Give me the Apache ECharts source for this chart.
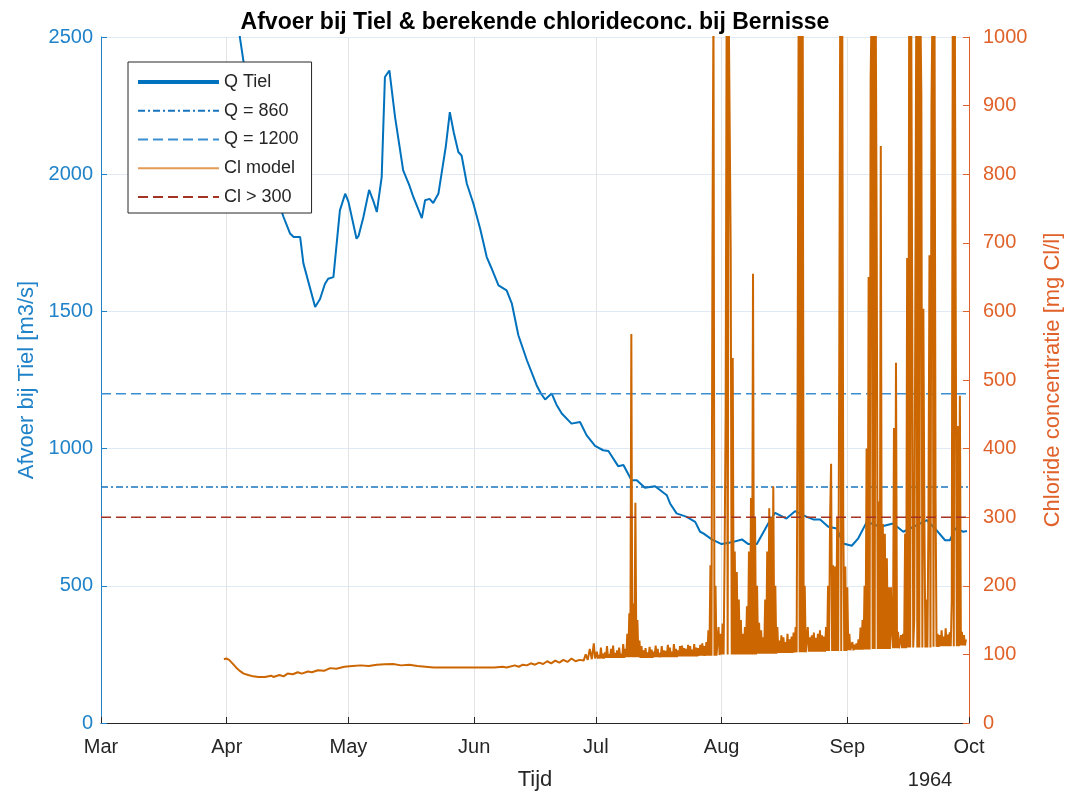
<!DOCTYPE html>
<html>
<head>
<meta charset="utf-8">
<title>Afvoer bij Tiel & berekende chlorideconc. bij Bernisse</title>
<script src="https://cdn.jsdelivr.net/npm/echarts@6/dist/echarts.min.js"></script>
<style>
  html, body { margin: 0; padding: 0; background: #fff; }
  #chart { width: 1070px; height: 792px; }
</style>
</head>
<body>
<div id="chart"></div>
<script>
// =====================
// Data (tijd = dagen sinds 1 maart 1964)
// =====================

const monthNames = ["Jan", "Feb", "Mar", "Apr", "May", "Jun", "Jul", "Aug", "Sep", "Oct", "Nov", "Dec"];
const yearLabel = "1964";

const qLevels = [860, 1200];
const clLevel = 300;

// afvoer Tiel [m3/s]
const qTiel = [
  [31, 2850], [33, 2640], [34.3, 2493], [35.1, 2414], [37, 2250], [39, 2120], [41, 2010],
  [43, 1930], [45, 1844], [46.6, 1784], [47.5, 1771], [49.1, 1771], [49.9, 1675], [52.8, 1516],
  [54, 1545], [55.2, 1600], [56, 1619], [57.3, 1625], [58.9, 1868], [60.2, 1929], [61, 1900],
  [63, 1765], [63.5, 1775], [64.7, 1844], [66.1, 1943], [67.2, 1900], [68, 1862], [69.2, 1989],
  [70, 2354], [71.1, 2378], [72.5, 2208], [74.5, 2014], [76, 1960], [77, 1917], [79.1, 1840],
  [79.9, 1905], [81, 1910], [81.9, 1895], [83.2, 1930], [85, 2100], [86, 2226], [87, 2150],
  [88.1, 2081], [88.9, 2068], [90.2, 1965], [91.8, 1893], [93.5, 1800], [95.1, 1698], [96.2, 1660],
  [98, 1595], [100, 1577], [101.3, 1528], [102.9, 1413], [105, 1322], [107.4, 1231], [108.5, 1200],
  [109.5, 1179], [111.1, 1201], [112.3, 1160], [113.6, 1128], [116, 1091], [118.1, 1097],
  [119.7, 1049], [121.8, 1010], [123.8, 994], [125.1, 991], [127.5, 936], [128.8, 940],
  [130.8, 885], [132.1, 885], [134.1, 857], [136.6, 863], [139.5, 830], [140.3, 800],
  [141.9, 764], [144.4, 751], [146.5, 733], [147.7, 697], [148.5, 691], [150.6, 669],
  [153, 652], [155.9, 660], [158, 669], [159.6, 652], [161.7, 652], [164.5, 727], [166.2, 766],
  [169, 745], [171.1, 772], [174, 751], [175.6, 742], [177.3, 742], [179.3, 715], [181.4, 709],
  [183, 654], [185.1, 646], [186.7, 673], [188.8, 733], [192.1, 715], [195.3, 727], [197.8, 697],
  [200.3, 715], [203.6, 739], [205.6, 709], [208.1, 666], [209.3, 666], [210.6, 709],
  [212.6, 697], [213.5, 700]
];

// chloride model, april - juni [mg Cl/l]
const clEarly = [
  [30.3, 93], [30.9, 94], [31.6, 92], [32.4, 87], [33.3, 81], [34.2, 76], [35.2, 72], [36.3, 70],
  [37.5, 68], [38.8, 67], [40.4, 67], [42, 69], [42.5, 67], [44, 70], [45, 68], [46, 72],
  [47.3, 71], [48.5, 74], [49.5, 72], [51, 75], [52, 74], [53.5, 77], [55, 76], [56.5, 80],
  [58, 79], [60, 82], [62, 83], [64, 84], [66, 83], [68, 85], [70, 85.5], [72, 86], [74, 84],
  [76, 85], [78, 83], [80, 82], [82, 81], [85, 81], [88, 81], [91, 81], [94, 81], [97, 81],
  [99, 82], [100, 81], [102, 84], [103, 82], [104, 85], [105, 84], [106, 87], [107, 85],
  [108, 88], [109, 86], [110, 90], [111, 87], [112, 91], [113, 88], [114, 92], [115, 89],
  [116, 94], [117, 90], [118, 92], [119, 91], [119.5, 100], [120, 92], [120.5, 108], [121, 93],
  [121.5, 116], [121.8, 94]
];

// chloride model vanaf 1 juli, elke 6 uur (laag, hoog, laag, hoog per dag)
const clStartDay = 122;
const clStepDay = 0.25;
const clValues = [
  // juli
  94, 104, 94, 99,      94, 110, 94, 101,     94, 103, 95, 112,     95, 100, 95, 108,
  95, 113, 95, 102,     95, 106, 95, 110,     95, 101, 95, 115,     95, 108, 96, 130,
  96, 160, 96, 567,     96, 174, 96, 321,     96, 150, 96, 120,     95, 112, 95, 106,
  95, 109, 95, 103,     95, 111, 95, 107,     95, 104, 96, 113,     96, 108, 96, 102,
  96, 112, 96, 106,     96, 105, 96, 114,     96, 110, 96, 104,     96, 115, 96, 108,
  96, 106, 97, 112,     97, 113, 97, 109,     97, 108, 97, 114,     97, 112, 97, 107,
  97, 115, 97, 110,     97, 109, 98, 114,     98, 116, 98, 112,     98, 118, 98, 135,
  98, 230, 98, 700,     1050, 98, 200, 98,    99, 140, 99, 130,
  // augustus
  100, 145, 100, 250,   450, 1050, 100, 1050, 1050, 690, 100, 532, 100, 250, 100, 220,
  100, 180, 100, 150,   100, 130, 100, 140,   100, 170, 100, 250,   100, 328, 100, 655,
  100, 300, 100, 200,   101, 146, 101, 135,   101, 125, 101, 180,   101, 250, 101, 313,
  101, 300, 101, 345,   101, 200, 101, 140,   102, 120, 102, 128,   102, 125, 102, 118,
  102, 130, 102, 122,   102, 126, 102, 132,   103, 140, 103, 500,   1050, 103, 1050, 103,
  1050, 103, 200, 103,  104, 140, 104, 125,   104, 128, 104, 132,   104, 124, 104, 130,
  104, 135, 104, 128,   104, 126, 104, 140,   105, 200, 105, 300,   378, 105, 230, 105,
  228, 105, 300, 105,   510, 1050, 105, 1050, 300, 105, 228, 105,
  // september
  198, 106, 130, 106,   106, 118, 106, 114,   107, 116, 107, 122,   107, 139, 107, 150,
  107, 200, 107, 400,   107, 650, 107, 939,   1050, 108, 1050, 108, 1050, 693, 108, 323,
  108, 841, 108, 290,   108, 276, 108, 240,   108, 198, 108, 198,   133, 109, 430, 109,
  525, 109, 133, 109,   109, 128, 109, 130,   109, 276, 109, 678,   110, 1050, 110, 1050,
  614, 110, 150, 586,   1050, 110, 1050, 110, 1050, 915, 110, 604,  299, 110, 180, 110,
  300, 682, 110, 901,   1050, 111, 1050, 335, 111, 130, 111, 128,   112, 135, 112, 126,
  112, 138, 112, 129,   112, 132, 112, 178,   1050, 112, 1050, 563, 112, 433, 112, 477,
  113, 133, 113, 128,   113, 122
];

// =====================
// Opbouw
// =====================

const DAY = 86400000;
const tStart = new Date(1964, 2, 1).getTime();
const tEnd = new Date(1964, 9, 1).getTime();

function toTime(d) {
  return tStart + d * DAY;
}

const qData = qTiel.map((p) => [toTime(p[0]), p[1]]);

const clData = clEarly
  .map((p) => [toTime(p[0]), p[1]])
  .concat(clValues.map((v, i) => [toTime(clStartDay + i * clStepDay), v]));

const FONT = "'Liberation Sans', Arial, Helvetica, sans-serif";
const BLUE = "#0072BD";
const BLUE_TXT = "#2083C9";
const ORANGE = "#CC6600";
const ORANGE_AX = "#E0622A";
const DARK = "#262626";

const chart = echarts.init(document.getElementById("chart"));

chart.setOption({
  animation: false,

  title: {
    text: "Afvoer bij Tiel & berekende chlorideconc. bij Bernisse",
    left: "center",
    top: 6,
    textStyle: { fontFamily: FONT, fontSize: 23, fontWeight: "bold", color: "#000" },
  },

  legend: {
    orient: "vertical",
    left: 128,
    top: 62,
    padding: [10, 13, 6, 8],
    itemWidth: 81,
    itemHeight: 14,
    itemGap: 8.75,
    backgroundColor: "#fff",
    borderColor: DARK,
    borderWidth: 1,
    borderRadius: 0,
    itemStyle: { opacity: 0 },
    textStyle: { fontFamily: FONT, fontSize: 18, color: DARK, lineHeight: 20 },
    data: [
      { name: "Q Tiel", lineStyle: { width: 4 } },
      { name: "Q = 860" },
      { name: "Q = 1200" },
      { name: "Cl model", lineStyle: { color: "#E39A55", width: 2 } },
      { name: "Cl > 300" },
    ],
  },

  grid: {
    left: 101,
    right: 101,
    top: 37,
    bottom: 69,
    outerBoundsMode: "none",
  },

  xAxis: {
    type: "time",
    min: tStart,
    max: tEnd,
    splitNumber: 7,
    minInterval: 28 * DAY,
    maxInterval: 31 * DAY,
    name: "Tijd",
    nameLocation: "middle",
    nameGap: 46,
    nameTextStyle: { fontFamily: FONT, fontSize: 22, color: DARK },
    axisLine: { lineStyle: { color: DARK, width: 1 } },
    axisTick: { inside: true, length: 6, lineStyle: { color: DARK } },
    axisLabel: {
      formatter: (v) => monthNames[new Date(v).getMonth()],
      fontFamily: FONT,
      fontSize: 20,
      color: DARK,
      margin: 14,
      showMinLabel: true,
      showMaxLabel: true,
      hideOverlap: false,
    },
    splitLine: { show: true, lineStyle: { color: "#e3e3e3", width: 1 } },
  },

  yAxis: [
    {
      type: "value",
      position: "left",
      min: 0,
      max: 2500,
      interval: 500,
      name: "Afvoer bij Tiel [m3/s]",
      nameLocation: "middle",
      nameRotate: 90,
      nameGap: 62,
      nameTextStyle: { fontFamily: FONT, fontSize: 22, color: BLUE_TXT },
      axisLine: { show: true, lineStyle: { color: BLUE_TXT, width: 1 } },
      axisTick: { show: true, inside: true, length: 6, lineStyle: { color: BLUE_TXT } },
      axisLabel: {
        formatter: (v) => String(v),
        fontFamily: FONT,
        fontSize: 20,
        color: BLUE_TXT,
        margin: 8,
      },
      splitLine: { show: true, lineStyle: { color: "#dfeaf5", width: 1 } },
    },
    {
      type: "value",
      position: "right",
      min: 0,
      max: 1000,
      interval: 100,
      name: "Chloride concentratie [mg Cl/l]",
      nameLocation: "middle",
      nameRotate: 90,
      nameGap: 73,
      nameTextStyle: { fontFamily: FONT, fontSize: 22, color: ORANGE_AX },
      axisLine: { show: true, lineStyle: { color: ORANGE_AX, width: 1 } },
      axisTick: { show: true, inside: true, length: 6, lineStyle: { color: ORANGE_AX } },
      axisLabel: {
        formatter: (v) => String(v),
        fontFamily: FONT,
        fontSize: 20,
        color: ORANGE_AX,
        margin: 14,
      },
      splitLine: { show: false },
    },
  ],

  graphic: [
    {
      type: "text",
      x: 930,
      y: 780,
      style: {
        text: yearLabel,
        align: "center",
        verticalAlign: "middle",
        fontFamily: FONT,
        fontSize: 20,
        fill: DARK,
      },
    },
  ],

  series: [
    {
      name: "Q Tiel",
      type: "line",
      yAxisIndex: 0,
      showSymbol: false,
      symbol: "none",
      color: BLUE,
      lineStyle: { color: BLUE, width: 2 },
      data: qData,
    },
    {
      name: "Q = 860",
      type: "line",
      yAxisIndex: 0,
      showSymbol: false,
      symbol: "none",
      color: "#1874BC",
      lineStyle: { color: "#1874BC", width: 1.4, type: [7, 3, 2, 3] },
      data: [[tStart, qLevels[0]], [tEnd, qLevels[0]]],
    },
    {
      name: "Q = 1200",
      type: "line",
      yAxisIndex: 0,
      showSymbol: false,
      symbol: "none",
      color: "#3A8FD2",
      lineStyle: { color: "#3A8FD2", width: 1.5, type: [10, 5] },
      data: [[tStart, qLevels[1]], [tEnd, qLevels[1]]],
    },
    {
      name: "Cl model",
      type: "line",
      yAxisIndex: 1,
      showSymbol: false,
      symbol: "none",
      color: ORANGE,
      lineStyle: { color: ORANGE, width: 2 },
      data: clData,
    },
    {
      name: "Cl > 300",
      type: "line",
      yAxisIndex: 1,
      showSymbol: false,
      symbol: "none",
      color: "#A33222",
      lineStyle: { color: "#A33222", width: 1.5, type: [10, 5] },
      data: [[tStart, clLevel], [tEnd, clLevel]],
    },
  ],
});
</script>
</body>
</html>
